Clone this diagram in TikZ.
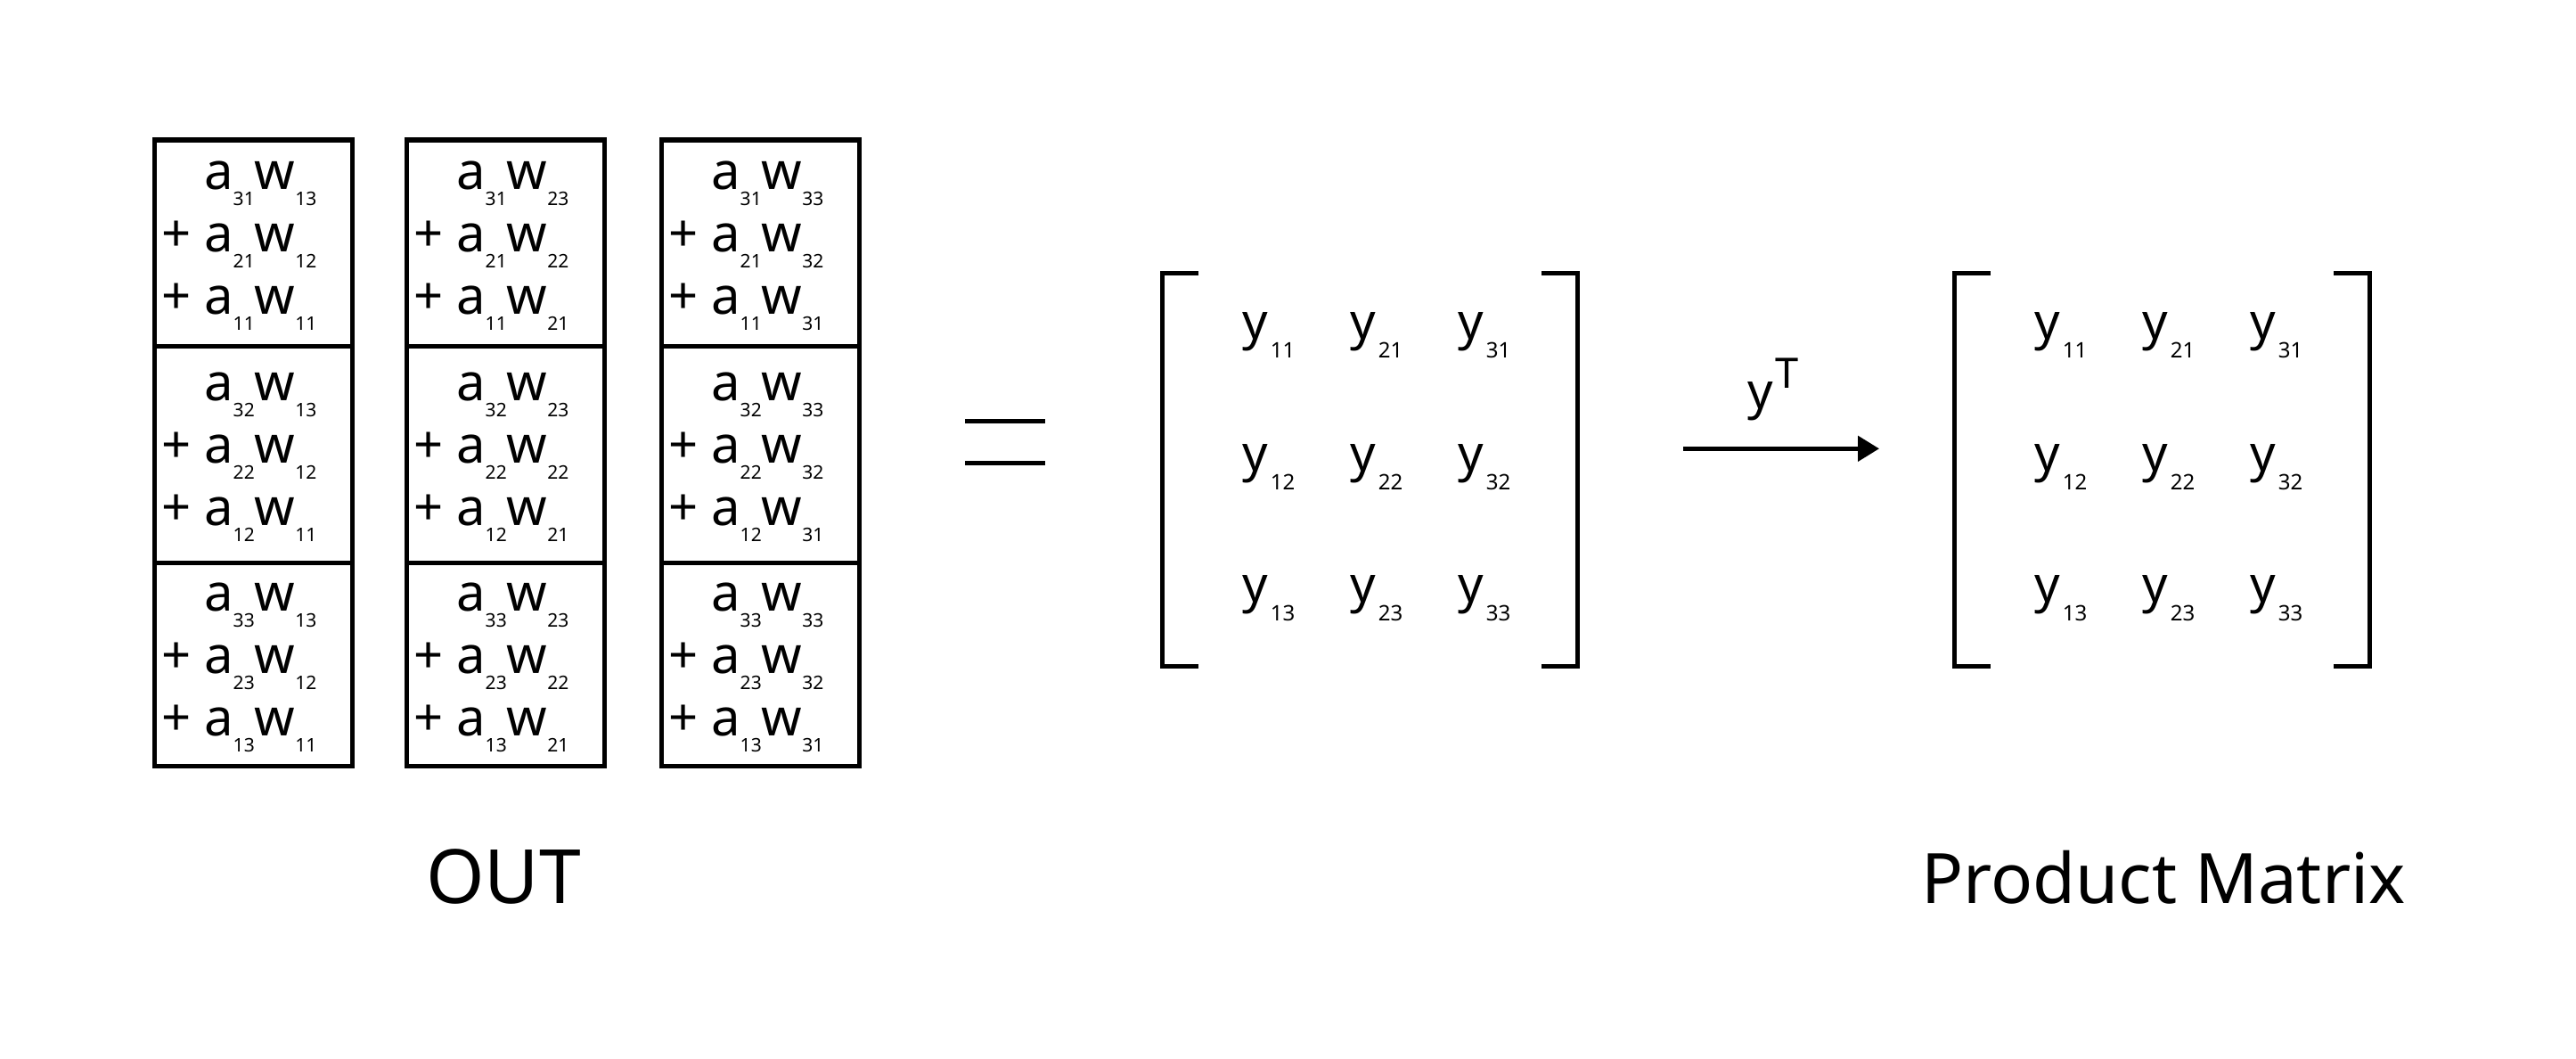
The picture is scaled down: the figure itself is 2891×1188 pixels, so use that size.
\documentclass[tikz,border=0pt]{standalone}
\usepackage{fontspec}
\setmainfont{Noto Sans}
\usetikzlibrary{arrows.meta}
\newcommand{\subn}[1]{\raisebox{-18pt}{\fontsize{21}{21}\selectfont #1}}
\newcommand{\suby}[1]{\kern3pt\raisebox{-21pt}{\fontsize{24}{24}\selectfont #1}}
\newcommand{\aw}[2]{a\subn{#1}w\subn{#2}}
\tikzset{
  cellbox/.style={draw, line width=5pt, inner sep=0pt, minimum width=222pt},
  term/.style={anchor=base west, inner sep=0pt, font=\fontsize{58}{58}\selectfont},
  yent/.style={anchor=base west, inner sep=0pt, font=\fontsize{56}{56}\selectfont},
  brk/.style={line width=5pt, line join=miter},
  lbl/.style={anchor=base, inner sep=0pt, font=\fontsize{84}{84}\selectfont}
}
\begin{document}
\begin{tikzpicture}[x=1pt,y=-1pt]
\fill[white] (0,0) rectangle (2891,1188);
\useasboundingbox (0,0) rectangle (2891,1188);
% OUT boxes
\foreach \c/\x in {1/173,2/456,3/742}{
  \foreach \r/\yc/\h in {1/272.5/231,2/509.5/243,3/745/228}{
    \node[cellbox, minimum height=\h pt] (cell\c\r) at (\x+111,\yc) {};
    \node[term] (t\c\r-1) at (\x+56,\yc-60) {\aw{3\r}{\c3}};
    \node[term] (p\c\r-2) at (\x+8,\yc+10) {+};
    \node[term] (t\c\r-2) at (\x+56,\yc+10) {\aw{2\r}{\c2}};
    \node[term] (p\c\r-3) at (\x+8,\yc+80) {+};
    \node[term] (t\c\r-3) at (\x+56,\yc+80) {\aw{1\r}{\c1}};
  }
}
\node[lbl] (out) at (565,1013) {OUT};
% equals sign
\draw[line width=5pt] (1083,472.5) -- (1173,472.5);
\draw[line width=5pt] (1083,519.5) -- (1173,519.5);
% matrices
\foreach \m/\dx in {1/0,2/889}{
  \draw[brk] (1345+\dx,306.5) -- (1304.5+\dx,306.5) -- (1304.5+\dx,747) -- (1345+\dx,747);
  \draw[brk] (1730+\dx,306.5) -- (1770+\dx,306.5) -- (1770+\dx,747) -- (1730+\dx,747);
  \foreach \c/\xx in {1/1394,2/1515,3/1636}{
    \foreach \r/\yy in {1/380,2/528,3/675}{
      \node[yent] (m\m-\c\r) at (\xx+\dx,\yy) {y\suby{\c\r}};
    }
  }
}
% arrow
\coordinate (arrS) at (1889,503.3);
\coordinate (arrE) at (2109,503.3);
\draw[line width=5pt, -{Triangle[length=24pt,width=28pt]}] (arrS) -- (arrE);
\node[yent] (yT) at (1961,458) {y\kern3pt\raisebox{23pt}{\fontsize{47}{47}\selectfont T}};
\node[lbl, font=\fontsize{78}{78}\selectfont] (pm) at (2428,1013) {Product Matrix};
\end{tikzpicture}
\end{document}
